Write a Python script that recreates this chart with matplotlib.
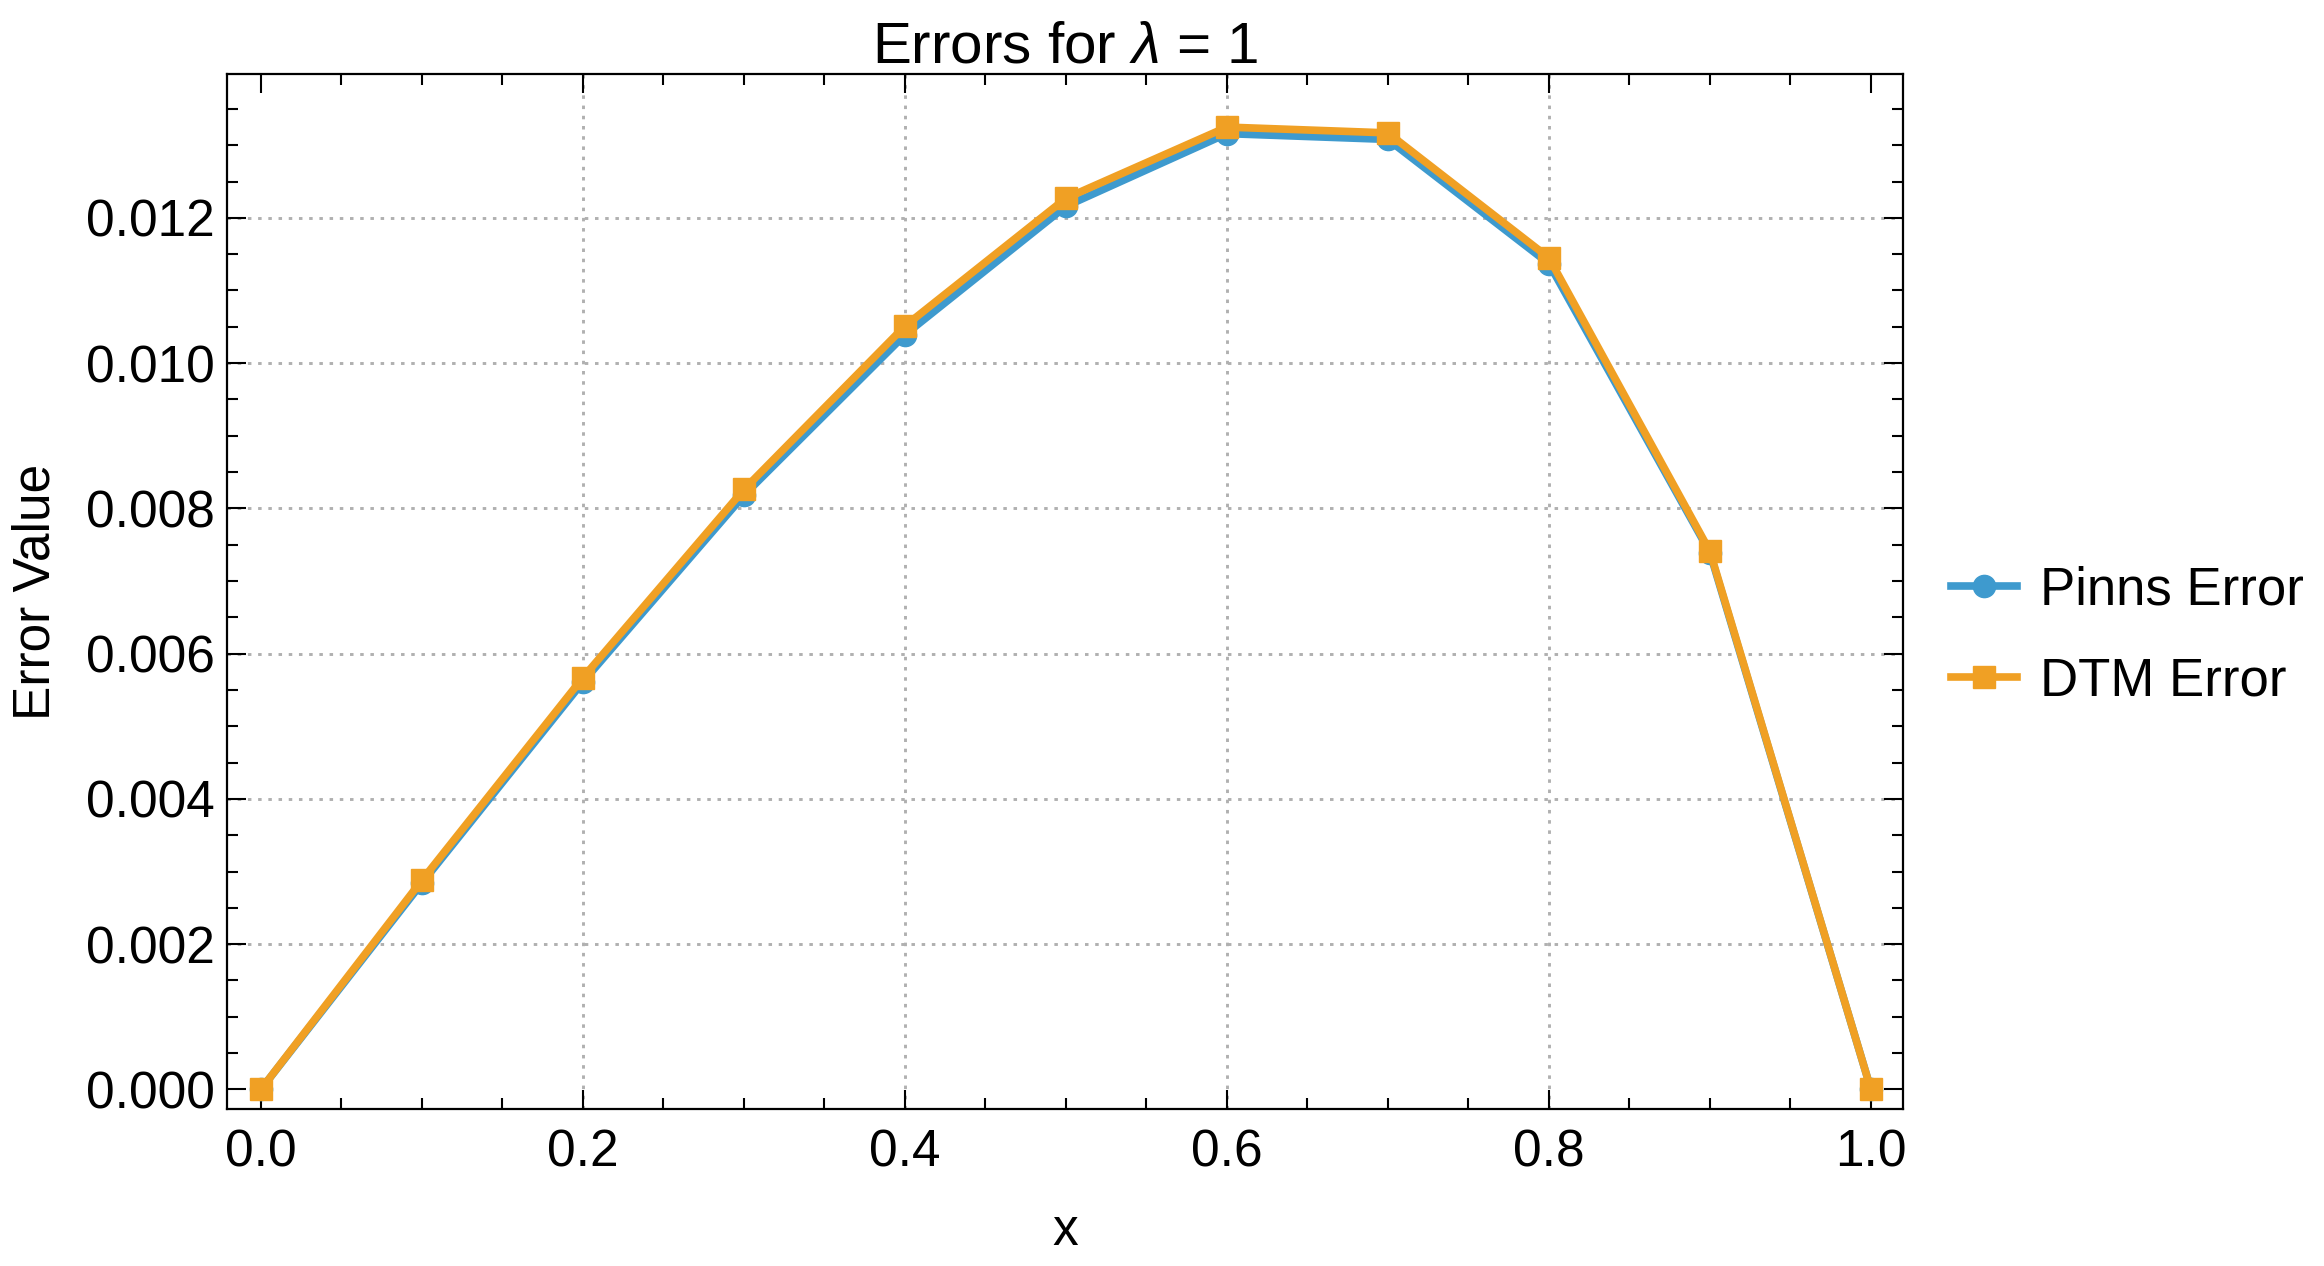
"""Errors for lambda = 1: PINNs vs DTM."""
import matplotlib
matplotlib.use("Agg")
import matplotlib.pyplot as plt
from matplotlib.ticker import MultipleLocator

x_vals = [0.0, 0.1, 0.2, 0.3, 0.4, 0.5, 0.6, 0.7, 0.8, 0.9, 1.0]
pinns_err = [0.0, 0.00284, 0.00561, 0.00818, 0.01039, 0.01216, 0.01316, 0.01308, 0.01137, 0.00739, 0.0]
dtm_err = [0.0, 0.00288, 0.00567, 0.00826, 0.01051, 0.01227, 0.01325, 0.01317, 0.01145, 0.00741, 0.0]

plt.rcParams["font.family"] = ["Liberation Sans", "DejaVu Sans"]
plt.rcParams["mathtext.fontset"] = "custom"
plt.rcParams["mathtext.it"] = "Liberation Sans:italic"
plt.rcParams["mathtext.rm"] = "Liberation Sans"

BLUE = "#3e9ace"
ORANGE = "#f0a024"
GRID = "#b0b0b0"
FS = 37

fig = plt.figure(figsize=(23.24, 12.66), dpi=100)
ax = fig.add_axes([0.0977, 0.124, 0.7212, 0.8175])

ax.plot(x_vals, pinns_err, "-o", color=BLUE, lw=5.5, ms=16, label="Pinns Error", zorder=3)
ax.plot(x_vals, dtm_err, "-s", color=ORANGE, lw=5.5, ms=16, label="DTM Error", zorder=4)

ax.set_xlim(-0.021, 1.020)
ax.set_ylim(-0.00027, 0.01398)
ax.xaxis.set_major_locator(MultipleLocator(0.2))
ax.xaxis.set_minor_locator(MultipleLocator(0.05))
ax.yaxis.set_major_locator(MultipleLocator(0.002))
ax.yaxis.set_minor_locator(MultipleLocator(0.0005))
ax.xaxis.set_major_formatter(lambda v, p: f"{v:.1f}")
ax.yaxis.set_major_formatter(lambda v, p: f"{v:.3f}")

ax.tick_params(which="both", direction="in", top=True, right=True, width=1.5, colors="black",
               labelsize=FS)
ax.tick_params(which="major", length=14)
ax.tick_params(which="minor", length=8)
ax.tick_params(axis="x", which="major", pad=14)
ax.tick_params(axis="y", which="major", pad=9)
for s in ax.spines.values():
    s.set_linewidth(1.6)

# dotted grid at the interior major ticks
for xv in [0.2, 0.4, 0.6, 0.8]:
    ax.axvline(xv, color=GRID, lw=2.1, ls=(0, (1.2, 2.3)), zorder=1)
for yv in [0.002, 0.004, 0.006, 0.008, 0.010, 0.012]:
    ax.axhline(yv, color=GRID, lw=2.1, ls=(0, (1.2, 2.3)), zorder=1)

ax.set_title("Errors for $\\it{\\lambda}$ = 1", fontsize=42, pad=5)
ax.set_xlabel("x", fontsize=FS, labelpad=21)
ax.set_ylabel("Error Value", fontsize=FS, labelpad=18)

ax.legend(loc="center left", bbox_to_anchor=(1.0, 0.457), frameon=False, fontsize=38,
          handlelength=1.25, handletextpad=0.45, labelspacing=0.78)

fig.savefig("out.png", dpi=100)
